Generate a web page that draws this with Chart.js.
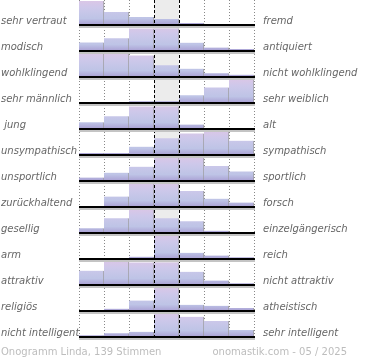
<!DOCTYPE html>
<html>
<head>
<meta charset="utf-8">
<script src="https://cdn.jsdelivr.net/npm/chart.js@4"></script>
<style>
  html, body { margin: 0; padding: 0; background: #fff; }
  #wrap { width: 370px; height: 360px; }
</style>
</head>
<body>
<div id="wrap"><canvas id="chart" width="370" height="360"></canvas></div>
<script>
const bins = ['-3', '-2', '-1', '0', '1', '2', '3'];
const leftLabels = ['sehr vertraut', 'modisch', 'wohlklingend', 'sehr männlich', ' jung', 'unsympathisch',
  'unsportlich', 'zurückhaltend', 'gesellig', 'arm', 'attraktiv', 'religiös', 'nicht intelligent'];
const rightLabels = ['fremd', 'antiquiert', 'nicht wohlklingend', 'sehr weiblich', 'alt', 'sympathisch',
  'sportlich', 'forsch', 'einzelgängerisch', 'reich', 'nicht attraktiv', 'atheistisch', 'sehr intelligent'];
// bar heights per row (100 = full row height)
const values = [
  [92, 50, 31, 23, 8, 2, 0],
  [33, 49, 87, 87, 32, 13, 8],
  [94, 94, 83, 45, 32, 14, 9],
  [0, 3, 7, 7, 30, 60, 108],
  [26, 49, 87, 87, 17, 4, 3],
  [8, 8, 32, 64, 83, 91, 55],
  [13, 32, 55, 96, 90, 58, 37],
  [0, 40, 91, 91, 62, 32, 17],
  [18, 57, 95, 57, 45, 9, 0],
  [0, 0, 9, 100, 24, 13, 7],
  [55, 93, 87, 87, 51, 17, 7],
  [0, 9, 40, 93, 24, 20, 12],
  [7, 14, 20, 95, 78, 62, 27]
];
const footerLeft = 'Onogramm Linda, 139 Stimmen';
const footerRight = 'onomastik.com - 05 / 2025';

const ROW = 100;
const nRows = values.length;
const baseOf = i => (nRows - 1 - i) * ROW;

function rowGradient(ctx, chart, i) {
  const y = chart.scales.y;
  const top = y.getPixelForValue(baseOf(i) + ROW);
  const bot = y.getPixelForValue(baseOf(i));
  const g = ctx.createLinearGradient(0, top, 0, bot);
  g.addColorStop(0, '#dec6e6');
  g.addColorStop(0.35, '#cdc8ea');
  g.addColorStop(0.75, '#bec4e6');
  g.addColorStop(1, '#a99fd3');
  return g;
}

const datasets = values.map((row, i) => ({
  label: leftLabels[i].trim() + ' / ' + rightLabels[i],
  data: row.map(v => [baseOf(i), baseOf(i) + v]),
  grouped: false,
  barPercentage: 1,
  categoryPercentage: 1,
  borderWidth: { top: 0, right: 1, bottom: 0, left: 0 },
  borderColor: '#9a9a9a',
  borderSkipped: false,
  backgroundColor: c => c.chart.chartArea ? rowGradient(c.chart.ctx, c.chart, i) : '#c6c8ea'
}));

const decor = {
  id: 'decor',
  beforeDatasetsDraw(chart) {
    const { ctx, chartArea, scales: { x, y } } = chart;
    const bottom = y.getPixelForValue(0) + 1;
    const half = (x.getPixelForValue(1) - x.getPixelForValue(0)) / 2;
    ctx.save();
    // shaded middle column
    const mid = x.getPixelForValue(3);
    ctx.fillStyle = '#ececec';
    ctx.fillRect(mid - half, chartArea.top, half * 2, bottom - chartArea.top);
    // dotted column lines
    ctx.strokeStyle = '#888';
    ctx.lineWidth = 1;
    ctx.setLineDash([1, 2]);
    [0, 1, 2, 5, 6, 7].forEach(k => {
      const px = Math.round(x.getPixelForValue(0) - half + k * half * 2) + 0.5;
      ctx.beginPath();
      ctx.moveTo(px, chartArea.top);
      ctx.lineTo(px, bottom);
      ctx.stroke();
    });
    ctx.restore();
  },
  afterDatasetsDraw(chart) {
    const { ctx, chartArea, scales: { x, y } } = chart;
    const bottom = y.getPixelForValue(0) + 1;
    const half = (x.getPixelForValue(1) - x.getPixelForValue(0)) / 2;
    const mid = x.getPixelForValue(3);
    ctx.save();
    // dashed middle column borders
    ctx.strokeStyle = '#000';
    ctx.lineWidth = 1;
    ctx.setLineDash([3, 2]);
    [mid - half, mid + half].forEach(p => {
      const px = Math.round(p) + 0.5;
      ctx.beginPath();
      ctx.moveTo(px, chartArea.top);
      ctx.lineTo(px, bottom);
      ctx.stroke();
    });
    ctx.setLineDash([]);
    // row baselines + labels
    ctx.font = 'italic 10px "DejaVu Sans"';
    ctx.textBaseline = 'alphabetic';
    values.forEach((row, i) => {
      const by = Math.round(y.getPixelForValue(baseOf(i)));
      ctx.fillStyle = '#c4c4c4';
      ctx.fillRect(chartArea.left, by + 1, chartArea.right - chartArea.left + 1, 2);
      ctx.fillStyle = '#000';
      ctx.fillRect(chartArea.left, by - 1, chartArea.right - chartArea.left + 1, 2);
      ctx.fillStyle = '#666';
      ctx.textAlign = 'left';
      ctx.fillText(leftLabels[i], 1, by - 1);
      ctx.fillText(rightLabels[i], chartArea.right + 9, by - 1);
    });
    // footer
    ctx.font = '10px "DejaVu Sans"';
    ctx.fillStyle = '#bdbdbd';
    ctx.textAlign = 'left';
    ctx.fillText(footerLeft, 1, 355);
    ctx.textAlign = 'right';
    ctx.fillText(footerRight, 347, 355);
    ctx.restore();
  }
};

new Chart(document.getElementById('chart'), {
  type: 'bar',
  data: { labels: bins, datasets: datasets },
  options: {
    responsive: false,
    animation: false,
    devicePixelRatio: 1,
    layout: { padding: { left: 79, right: 116, top: 0, bottom: 19 } },
    plugins: { legend: { display: false }, tooltip: { enabled: false } },
    scales: {
      x: { type: 'category', display: false, offset: true },
      y: { display: false, min: -4 / 0.26, max: 1296.15 }
    }
  },
  plugins: [decor]
});
</script>
</body>
</html>
